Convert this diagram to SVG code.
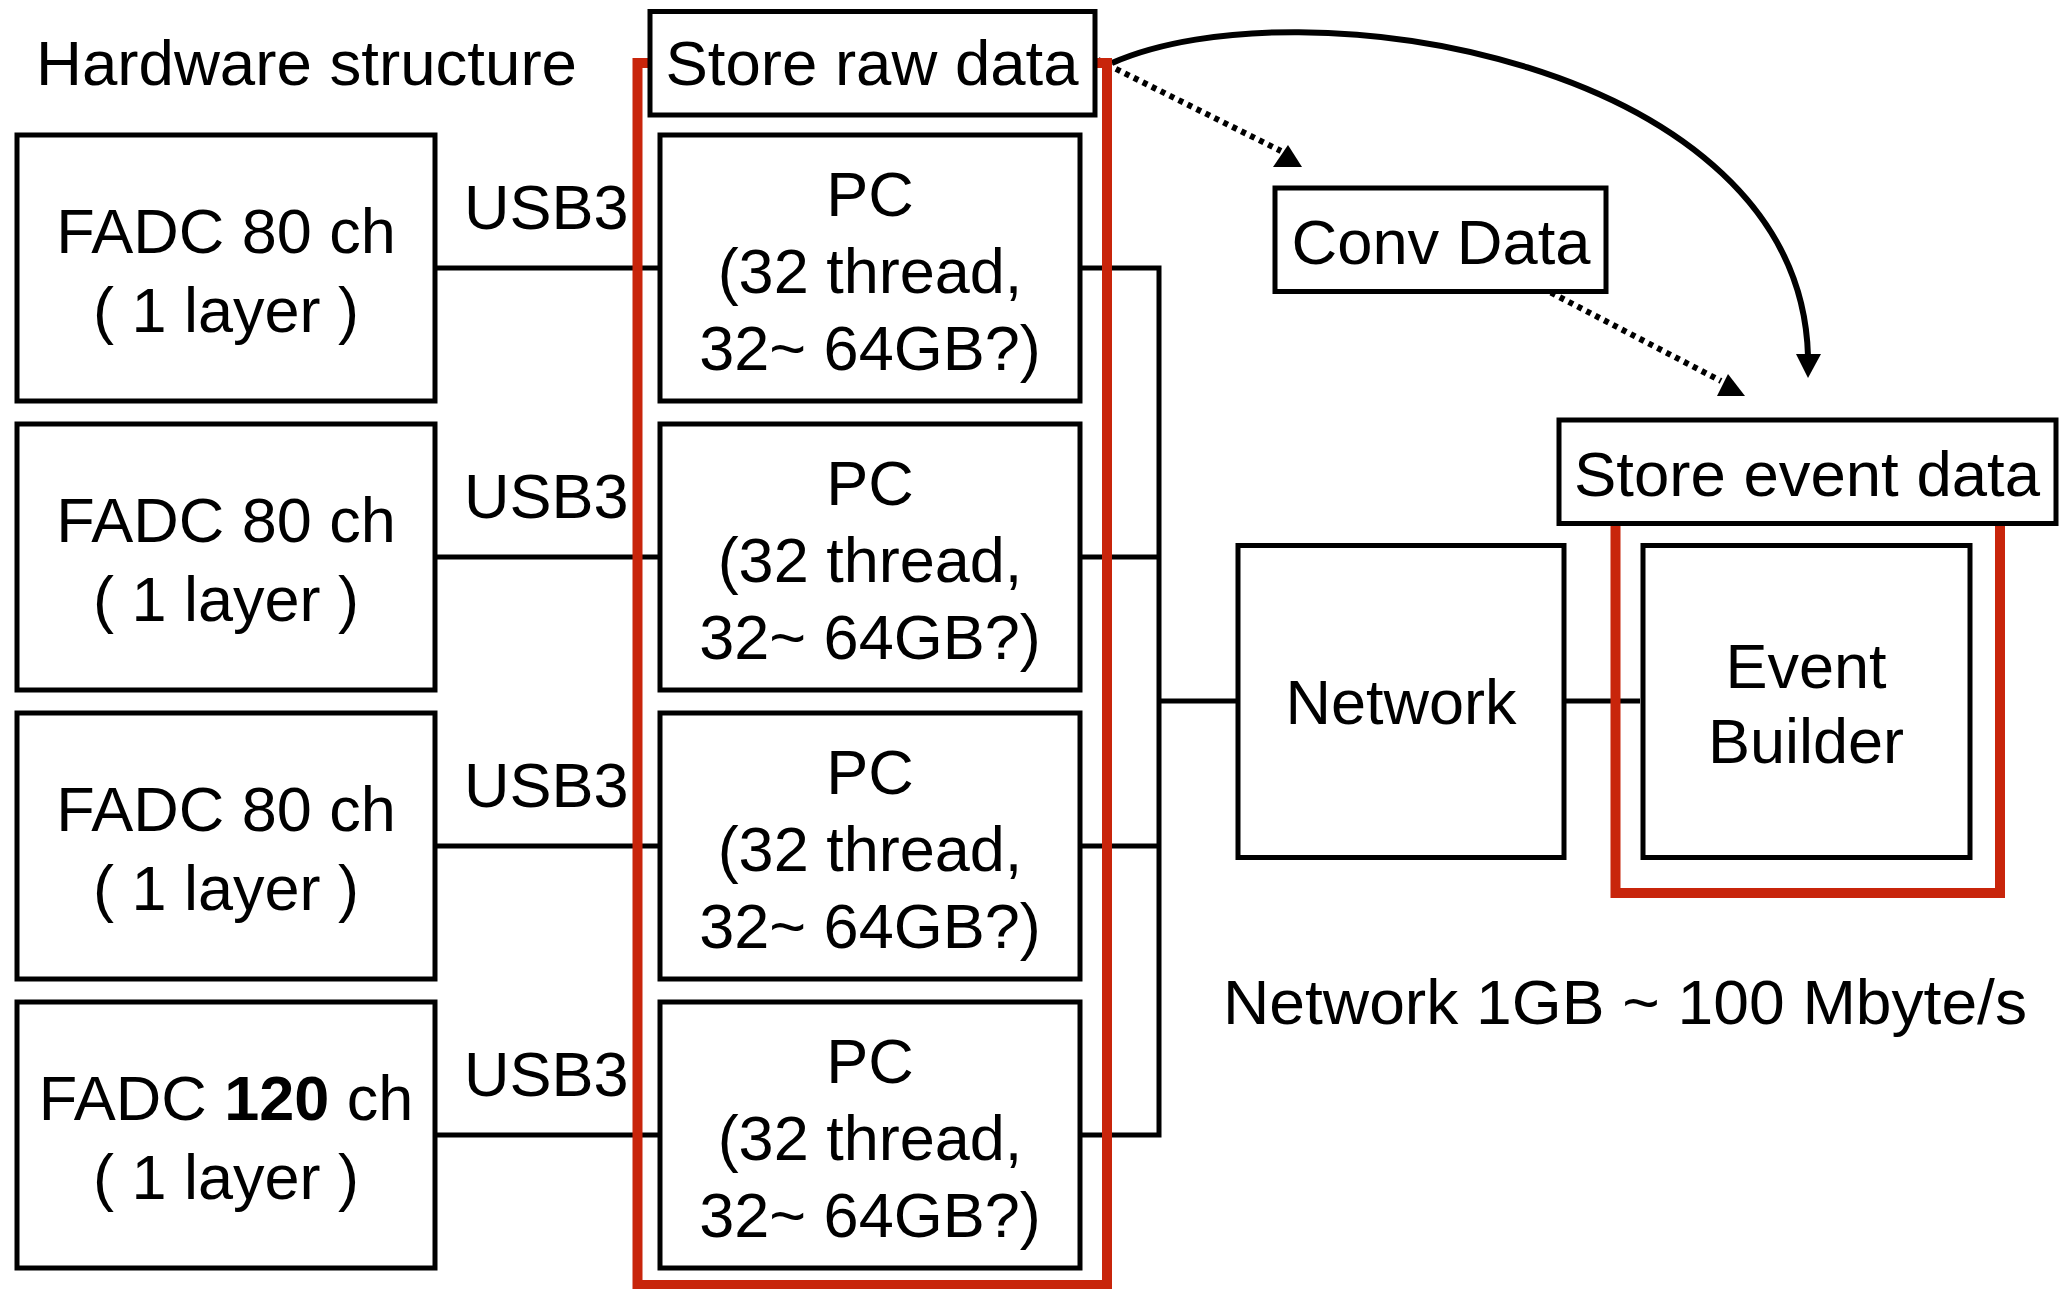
<svg xmlns="http://www.w3.org/2000/svg" width="2063" height="1289" viewBox="0 0 2063 1289">
<style>
text{font-family:"Liberation Sans",Arial,sans-serif;font-size:63px;fill:#000}
.c{text-anchor:middle}
.box{fill:#fff;stroke:#000;stroke-width:5}
.ln{fill:none;stroke:#000;stroke-width:5}
.cv{fill:none;stroke:#000;stroke-width:6}
.dot{fill:none;stroke:#000;stroke-width:6;stroke-dasharray:5 5}
.red{fill:none;stroke:#c8250b;stroke-width:10}
</style>
<rect width="2063" height="1289" fill="#fff"/>
<text x="36" y="85" textLength="541" lengthAdjust="spacingAndGlyphs">Hardware structure</text>
<g id="connectors">
<path class="ln" d="M435,268H660M435,557H660M435,846H660M435,1135H660"/>
<path class="ln" d="M1080,268H1159M1080,557H1159M1080,846H1159M1080,1135H1159M1159,265.5V1137.5"/>
<path class="ln" d="M1159,701H1238M1562,701H1640"/>
<path class="cv" d="M1112,63C1300,-20 1800,60 1808,356"/>
<polygon points="1808,378 1796,354 1821,354"/>
<path class="dot" d="M1098,60L1281,151"/>
<polygon points="1288,145 1273,167 1302,167"/>
<path class="dot" d="M1542,288L1721,381"/>
<polygon points="1728,374 1717,396 1745,396"/>
</g>
<rect class="red" x="637.5" y="63" width="469.5" height="1222"/>
<path class="red" d="M1615.5,500V893H2000V500"/>
<g id="store-raw"><rect class="box" x="650" y="11.5" width="445" height="103.5"/><text class="c" x="872" y="85" textLength="413" lengthAdjust="spacingAndGlyphs">Store raw data</text></g>
<g id="fadc1"><rect class="box" x="17" y="135" width="418" height="266"/><text class="c" x="226" y="253">FADC 80 ch</text><text class="c" x="226" y="332">( 1 layer )</text></g>
<g id="fadc2"><rect class="box" x="17" y="424" width="418" height="266"/><text class="c" x="226" y="542">FADC 80 ch</text><text class="c" x="226" y="621">( 1 layer )</text></g>
<g id="fadc3"><rect class="box" x="17" y="713" width="418" height="266"/><text class="c" x="226" y="831">FADC 80 ch</text><text class="c" x="226" y="910">( 1 layer )</text></g>
<g id="fadc4"><rect class="box" x="17" y="1002" width="418" height="266"/><text class="c" x="226" y="1120">FADC <tspan font-weight="bold">120</tspan> ch</text><text class="c" x="226" y="1199">( 1 layer )</text></g>
<g id="usb"><text x="464" y="229">USB3</text><text x="464" y="518">USB3</text><text x="464" y="807">USB3</text><text x="464" y="1096">USB3</text></g>
<g id="pc1"><rect class="box" x="660" y="135" width="420" height="266"/><text class="c" x="870" y="216">PC</text><text class="c" x="870" y="293">(32 thread,</text><text class="c" x="870" y="370">32~ 64GB?)</text></g>
<g id="pc2"><rect class="box" x="660" y="424" width="420" height="266"/><text class="c" x="870" y="505">PC</text><text class="c" x="870" y="582">(32 thread,</text><text class="c" x="870" y="659">32~ 64GB?)</text></g>
<g id="pc3"><rect class="box" x="660" y="713" width="420" height="266"/><text class="c" x="870" y="794">PC</text><text class="c" x="870" y="871">(32 thread,</text><text class="c" x="870" y="948">32~ 64GB?)</text></g>
<g id="pc4"><rect class="box" x="660" y="1002" width="420" height="266"/><text class="c" x="870" y="1083">PC</text><text class="c" x="870" y="1160">(32 thread,</text><text class="c" x="870" y="1237">32~ 64GB?)</text></g>
<g id="conv"><rect class="box" x="1275" y="188" width="331" height="103.5"/><text class="c" x="1441" y="264" textLength="299" lengthAdjust="spacingAndGlyphs">Conv Data</text></g>
<g id="store-event"><rect class="box" x="1559" y="420" width="497" height="103.5"/><text class="c" x="1807" y="496" textLength="466" lengthAdjust="spacingAndGlyphs">Store event data</text></g>
<g id="network"><rect class="box" x="1238" y="545.5" width="326" height="312"/><text class="c" x="1401" y="724">Network</text></g>
<g id="event-builder"><rect class="box" x="1643" y="545.5" width="327" height="312"/><text class="c" x="1806" y="688">Event</text><text class="c" x="1806" y="763">Builder</text></g>
<text x="1223" y="1024" textLength="804" lengthAdjust="spacingAndGlyphs">Network 1GB ~ 100 Mbyte/s</text>
</svg>
